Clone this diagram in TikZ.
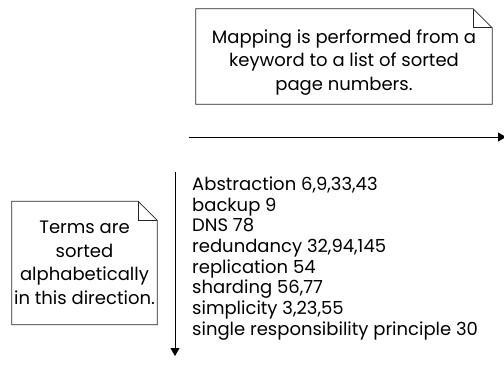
\documentclass[tikz,border=0pt]{standalone}
\usepackage{fontspec}
\setmainfont{Poppins}
\usetikzlibrary{arrows.meta, positioning, calc}

% folded-corner outline round a named node
\newcommand{\dogear}[1]{%
  \draw[edge] (#1.north west) -- ([xshift=-19pt]#1.north east) -- ([yshift=-19pt]#1.north east) -- (#1.south east) -- (#1.south west) -- cycle;
  \draw[edge] ([xshift=-19pt]#1.north east) |- ([yshift=-19pt]#1.north east);
}

\begin{document}
\begin{tikzpicture}[x=1pt, y=-1pt,
    note/.style={inner sep=0pt, align=center, font=\fontsize{18}{23.5}\selectfont},
    edge/.style={line width=0.7pt, draw=black!85},
    axis/.style={line width=0.9pt, -{Triangle[width=9pt, length=8pt]}},
]
    \useasboundingbox (0,0) rectangle (504,372);

    % Notes
    \node[note, minimum width=296pt, minimum height=95pt] (mapnote) at (344,56.5) {\rule{0pt}{25pt}Mapping is performed from a\\keyword to a list of sorted\\page numbers.};
    \node[note, minimum width=145pt, minimum height=123pt] (sortnote) at (84.5,263) {Terms are\\sorted\\alphabetically\\in this direction.};
    \dogear{mapnote}
    \dogear{sortnote}

    % Index entries
    \node[anchor=north west, align=left, inner sep=0pt, font=\fontsize{18}{20.7}\selectfont] (terms) at (192,176.5) {Abstraction 6,9,33,43\\backup 9\\DNS 78\\redundancy 32,94,145\\replication 54\\sharding 56,77\\simplicity 3,23,55\\single responsibility principle 30};

    % Axes
    \coordinate (mapstart) at (189,137);
    \coordinate (mapend) at (506,137);
    \coordinate (sortstart) at (175,172);
    \coordinate (sortend) at (175,356);
    \draw[axis] (mapstart) -- (mapend);
    \draw[axis] (sortstart) -- (sortend);
\end{tikzpicture}
\end{document}
